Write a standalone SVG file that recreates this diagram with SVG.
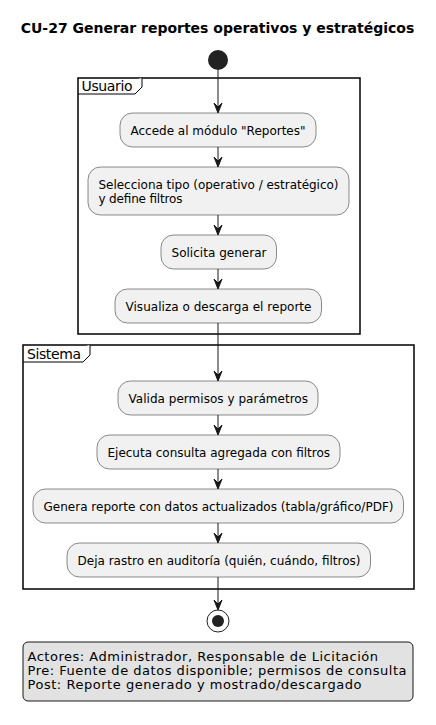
<svg xmlns="http://www.w3.org/2000/svg" width="436" height="725" viewBox="0 0 436 725">
<style>
text{font-family:"DejaVu Sans","Noto Sans",sans-serif;fill:#000}
.t{font-size:14px;font-weight:bold}
.n{font-size:12px}
.f{font-size:14px}
.nt{font-size:13px}
.act{fill:#F1F1F1;stroke:#181818;stroke-width:0.5}
.frame{fill:none;stroke:#000;stroke-width:1.5}
.tab{fill:#fff;stroke:#000;stroke-width:1}
.c{stroke:#181818;stroke-width:1;fill:none}
.ah{fill:#181818;stroke:#181818;stroke-width:1}
</style>
<defs>
<polygon id="ah" points="-4,-10 0,0 4,-10 0,-6"/>
</defs>
<text class="t" x="20.7" y="33" textLength="393.6" lengthAdjust="spacing">CU-27 Generar reportes operativos y estratégicos</text>

<g id="start"><circle cx="218" cy="60" r="10" fill="#222"/></g>

<g id="frame-usuario">
<rect class="frame" x="78" y="78" width="282" height="256"/>
<path class="tab" d="M78,94 L135,94 L142,87 L142,78"/>
<text class="f" x="81.5" y="91" textLength="51" lengthAdjust="spacing">Usuario</text>
</g>

<g id="frame-sistema">
<rect class="frame" x="23" y="345" width="391" height="244"/>
<path class="tab" d="M23,362 L83,362 L90,355 L90,345"/>
<text class="f" x="27" y="359" textLength="54" lengthAdjust="spacing">Sistema</text>
</g>

<g id="connectors">
<line class="c" x1="218" y1="70" x2="218" y2="112"/>
<line class="c" x1="218" y1="147" x2="218" y2="166"/>
<line class="c" x1="218" y1="215" x2="218" y2="234"/>
<line class="c" x1="218" y1="269" x2="218" y2="288"/>
<line class="c" x1="218" y1="323" x2="218" y2="380"/>
<line class="c" x1="218" y1="415" x2="218" y2="434"/>
<line class="c" x1="218" y1="469" x2="218" y2="488"/>
<line class="c" x1="218" y1="523" x2="218" y2="542"/>
<line class="c" x1="218" y1="577" x2="218" y2="609"/>
<use href="#ah" class="ah" x="218" y="113"/>
<use href="#ah" class="ah" x="218" y="167"/>
<use href="#ah" class="ah" x="218" y="235"/>
<use href="#ah" class="ah" x="218" y="289"/>
<use href="#ah" class="ah" x="218" y="381"/>
<use href="#ah" class="ah" x="218" y="435"/>
<use href="#ah" class="ah" x="218" y="489"/>
<use href="#ah" class="ah" x="218" y="543"/>
<use href="#ah" class="ah" x="218" y="610"/>
</g>

<g id="n1"><rect class="act" x="120" y="113" width="196" height="34" rx="12.5"/>
<text class="n" x="130.5" y="135" textLength="175" lengthAdjust="spacing">Accede al módulo "Reportes"</text></g>

<g id="n2"><rect class="act" x="88" y="167" width="261" height="48" rx="12.5"/>
<text class="n" x="98.5" y="189" textLength="240" lengthAdjust="spacing">Selecciona tipo (operativo / estratégico)</text>
<text class="n" x="98.5" y="203" textLength="84" lengthAdjust="spacing">y define filtros</text></g>

<g id="n3"><rect class="act" x="161" y="235" width="115.5" height="34" rx="12.5"/>
<text class="n" x="171.5" y="257" textLength="95" lengthAdjust="spacing">Solicita generar</text></g>

<g id="n4"><rect class="act" x="115" y="289" width="206.5" height="34" rx="12.5"/>
<text class="n" x="125.5" y="311" textLength="186" lengthAdjust="spacing">Visualiza o descarga el reporte</text></g>

<g id="n5"><rect class="act" x="118" y="381" width="200" height="34" rx="12.5"/>
<text class="n" x="128.5" y="403" textLength="179.5" lengthAdjust="spacing">Valida permisos y parámetros</text></g>

<g id="n6"><rect class="act" x="97" y="435" width="243" height="34" rx="12.5"/>
<text class="n" x="107.5" y="457" textLength="222.5" lengthAdjust="spacing">Ejecuta consulta agregada con filtros</text></g>

<g id="n7"><rect class="act" x="33" y="489" width="370.5" height="34" rx="12.5"/>
<text class="n" x="43.5" y="511" textLength="350" lengthAdjust="spacing">Genera reporte con datos actualizados (tabla/gráfico/PDF)</text></g>

<g id="n8"><rect class="act" x="67" y="543" width="303.5" height="34" rx="12.5"/>
<text class="n" x="77.5" y="565" textLength="283" lengthAdjust="spacing">Deja rastro en auditoría (quién, cuándo, filtros)</text></g>

<g id="end"><circle cx="218" cy="621" r="11" fill="#fff" stroke="#222" stroke-width="1"/>
<circle cx="218" cy="621" r="6" fill="#222"/></g>

<g id="note"><rect x="23" y="642" width="390" height="59" rx="5" fill="#E2E2E2" stroke="#181818" stroke-width="1"/>
<text class="nt" x="27.5" y="660.5" textLength="350.5" lengthAdjust="spacing">Actores: Administrador, Responsable de Licitación</text>
<text class="nt" x="27.5" y="674.5" textLength="379" lengthAdjust="spacing">Pre: Fuente de datos disponible; permisos de consulta</text>
<text class="nt" x="27.5" y="688.5" textLength="334" lengthAdjust="spacing">Post: Reporte generado y mostrado/descargado</text></g>
</svg>
